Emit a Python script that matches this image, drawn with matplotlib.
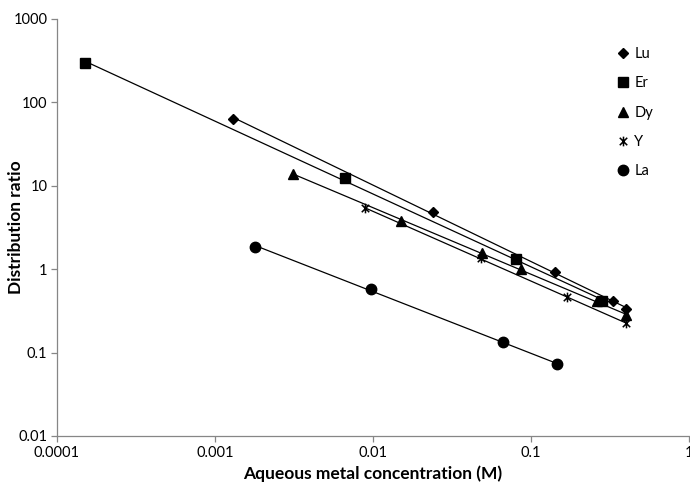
import matplotlib
matplotlib.use("Agg")
import matplotlib.pyplot as plt
from matplotlib.path import Path
from matplotlib.ticker import FixedLocator, FixedFormatter, NullLocator
import numpy as np

plt.rcParams['font.family'] = ['Lato', 'DejaVu Sans']

# data (aqueous conc. M, distribution ratio)
lu_x = [0.0013, 0.024, 0.142, 0.33, 0.40]
lu_y = [64, 4.8, 0.93, 0.41, 0.33]
er_x = [0.00015, 0.0066, 0.080, 0.28]
er_y = [300, 12.3, 1.33, 0.41]
dy_x = [0.0031, 0.015, 0.049, 0.086, 0.26, 0.40]
dy_y = [14, 3.8, 1.58, 1.0, 0.41, 0.28]
y_x = [0.0089, 0.048, 0.17, 0.40]
y_y = [5.4, 1.35, 0.46, 0.225]
la_x = [0.0018, 0.0097, 0.066, 0.145]
la_y = [1.85, 0.58, 0.135, 0.072]

xticks = [0.0001, 0.001, 0.01, 0.1, 1]
xtick_labels = ['0.0001', '0.001', '0.01', '0.1', '1']
yticks = [0.01, 0.1, 1, 10, 100, 1000]
ytick_labels = ['0.01', '0.1', '1', '10', '100', '1000']

# excel style star marker: an x with a vertical bar
star = Path([(-1, -1), (1, 1), (-1, 1), (1, -1), (0, -1.3), (0, 1.3)],
            [Path.MOVETO, Path.LINETO, Path.MOVETO, Path.LINETO, Path.MOVETO, Path.LINETO])

series = [
    ('Lu', lu_x, lu_y, 'D', 5.2),
    ('Er', er_x, er_y, 's', 7),
    ('Dy', dy_x, dy_y, '^', 7.5),
    ('Y', y_x, y_y, star, 7),
    ('La', la_x, la_y, 'o', 7.5),
]

fig = plt.figure(figsize=(6.9, 4.84), dpi=100)
ax = fig.add_axes([0.0826, 0.0992, 0.916, 0.8616])

for name, xs, ys, mk, ms in series:
    # power trendline fitted in log-log space
    lx, ly = np.log10(xs), np.log10(ys)
    k, b = np.polyfit(lx, ly, 1)
    xr = np.array([min(lx), max(lx)])
    ax.plot(10 ** xr, 10 ** (k * xr + b), color='black', lw=0.9, zorder=2)
    if mk is star:
        ax.plot(xs, ys, linestyle='none', marker=mk, ms=ms, mfc='none',
                mec='black', mew=1.1, label=name, zorder=3)
    else:
        ax.plot(xs, ys, linestyle='none', marker=mk, ms=ms, color='black',
                label=name, zorder=3)

ax.set_xscale('log')
ax.set_yscale('log')
ax.set_xlim(0.0001, 1)
ax.set_ylim(0.01, 1000)
ax.xaxis.set_major_locator(FixedLocator(xticks))
ax.xaxis.set_major_formatter(FixedFormatter(xtick_labels))
ax.yaxis.set_major_locator(FixedLocator(yticks))
ax.yaxis.set_major_formatter(FixedFormatter(ytick_labels))
ax.xaxis.set_minor_locator(NullLocator())
ax.yaxis.set_minor_locator(NullLocator())

for s in ['top', 'right']:
    ax.spines[s].set_visible(False)
for s in ['left', 'bottom']:
    ax.spines[s].set_color('#868686')
    ax.spines[s].set_linewidth(0.9)
ax.tick_params(axis='both', direction='out', length=4, width=0.9, color='#868686',
               labelsize=10.5, labelcolor='black', pad=3)

ax.set_xlabel('Aqueous metal concentration (M)', fontsize=12.5, fontweight='bold', labelpad=4)
ax.set_ylabel('Distribution ratio', fontsize=12.5, fontweight='bold')
ax.yaxis.set_label_coords(-0.052, 0.5)

ax.legend(loc='upper left', bbox_to_anchor=(0.874, 0.95), frameon=False,
          handlelength=0.8, handletextpad=0.4, labelspacing=1.05, fontsize=10.5,
          borderpad=0)

fig.savefig('out.png', dpi=100)
